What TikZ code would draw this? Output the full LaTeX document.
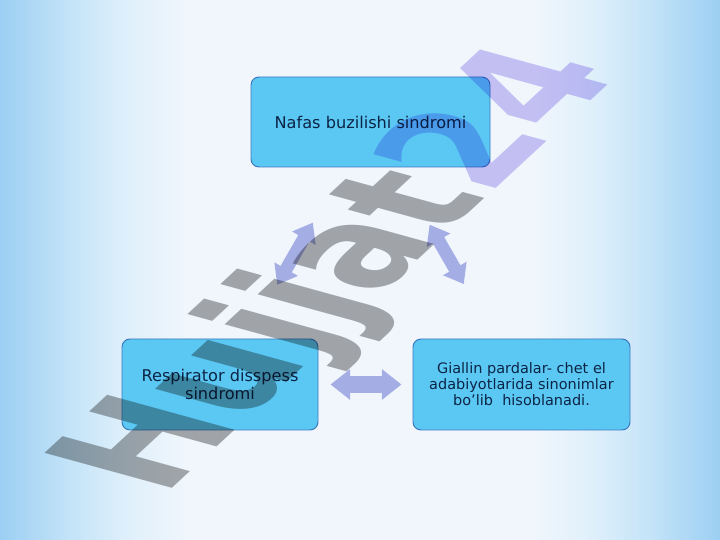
\documentclass[tikz,border=0pt]{standalone}
\usepackage{fontspec}
\setmainfont{DejaVu Sans}
\newfontfamily\markfont{DejaVu Sans}
\usetikzlibrary{positioning,arrows.meta,fadings}
\definecolor{boxfill}{RGB}{91,200,243}
\definecolor{boxline}{RGB}{60,120,190}
\definecolor{boxtext}{RGB}{12,36,70}
\definecolor{arrowcolor}{RGB}{165,173,229}
\definecolor{bgouter}{RGB}{156,207,243}
\definecolor{bgnear}{RGB}{197,228,248}
\definecolor{bgmid}{RGB}{224,240,251}
\definecolor{bgcentre}{RGB}{240,246,252}
\definecolor{markgray}{RGB}{171,171,171}
\definecolor{markpurple}{RGB}{208,198,246}
\pgfdeclarehorizontalshading{slidebg}{100bp}{color(0bp)=(bgouter); color(25bp)=(bgouter); color(30bp)=(bgnear); color(34bp)=(bgmid); color(38bp)=(bgcentre); color(62bp)=(bgcentre); color(66bp)=(bgmid); color(70bp)=(bgnear); color(75bp)=(bgouter); color(100bp)=(bgouter)}
\tikzfading[name=glare, top color=transparent!100, middle color=transparent!35, bottom color=transparent!100]
\tikzset{
    info box/.style={rectangle, rounded corners=0.2cm, draw=boxline, line width=0.7pt, fill=boxfill, text=boxtext, inner sep=0pt, align=center, font=\fontsize{11.5pt}{12.2pt}\selectfont},
    small text/.style={font=\fontsize{10.3pt}{11.4pt}\selectfont},
    link arrow/.style={arrowcolor, line width=9.2pt, {Triangle[width=18.5pt,length=12.8pt]}-{Triangle[width=18.5pt,length=12.8pt]}},
    wide link arrow/.style={link arrow, line width=11.4pt, {Triangle[width=21pt,length=14pt]}-{Triangle[width=21pt,length=14pt]}},
    watermark/.style={transform shape, anchor=base, inner sep=0pt, font=\markfont\bfseries\fontsize{40pt}{40pt}\selectfont}
}

\begin{document}
\begin{tikzpicture}
    \useasboundingbox (0,0) rectangle (18,13.5);
    % Background
    \shade[shading=slidebg] (0,0) rectangle (18,13.5);
    \fill[white, path fading=glare] (0,1.2) rectangle (18,5.4);

    % Boxes
    \node[info box, minimum width=5.975cm, minimum height=2.25cm] (top) at (9.2625,10.45) {Nafas buzilishi sindromi};
    \node[info box, minimum width=4.9cm, minimum height=2.275cm] (left) at (5.5,3.8875) {Respirator disspess\\sindromi};
    \node[info box, small text, minimum width=5.425cm, minimum height=2.275cm] (right) at (13.0375,3.8875) {Giallin pardalar- chet el\\adabiyotlarida sinonimlar\\bo’lib~ hisoblanadi.};

    % Arrows between boxes
    \draw[link arrow, shorten <=1.55cm, shorten >=1.59cm] (left) -- (top);
    \draw[link arrow, shorten <=1.65cm, shorten >=1.57cm] (top) -- (right);
    \draw[wide link arrow, shorten <=0.3cm, shorten >=0.275cm] (left) -- (right);

    % Watermark
    \begin{scope}[blend mode=multiply, cm={1.707,1.582,-3.107,0.854,(9.82,6.40)}]
        \node[watermark] (mark) at (0,0) {\color{markgray}Hujjat\color{markpurple}24};
    \end{scope}
\end{tikzpicture}
\end{document}
